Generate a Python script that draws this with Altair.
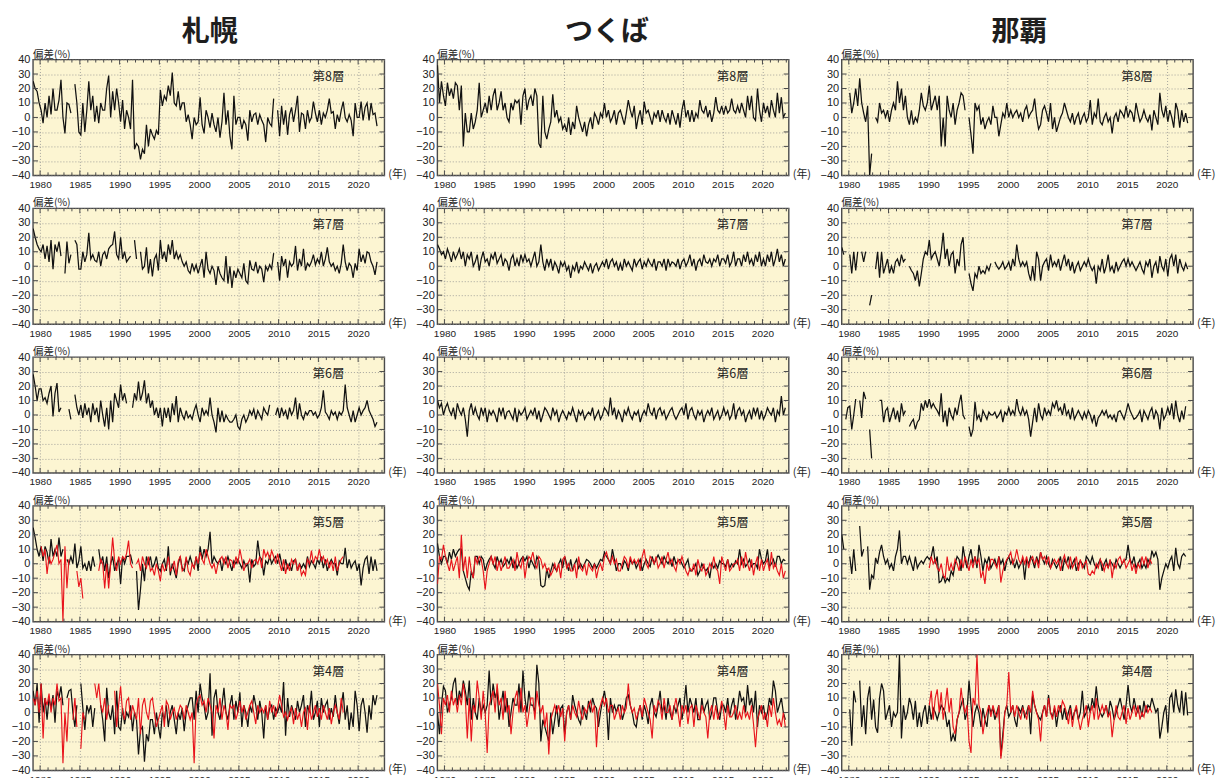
import altair as alt
import pandas as pd

# Ozone partial-column anomalies (%) per Umkehr layer, sampled once per quarter,
# 1979 Q1 .. 2022 Q4 (176 samples). None marks missing observations.
# "sonde" = black trace, "umkehr" = red trace.

# ---------------- Sapporo ----------------
sapporo_sonde_l8 = [
    25, 20, 18, 10, 5, -4, 10, 0, 15, 2, 20, 5, 5, 12, 26, 0, -11, 10, 9, 3,  # 1979-83
    None, 23, 10, -10, -12, 10, -10, 5, 25, 5, 15, -3, 8, -4, 10, 5, 5, 20, 29, 0,  # 1984-88
    18, 5, 20, 10, -3, 12, -8, 5, 0, -8, 26, -22, -18, -20, -29, -22, -25, -5, -20, -8,  # 1989-93
    -12, -15, -9, -12, 19, 8, 15, 12, 22, 15, 31, 10, 8, 18, 5, 10, 10, -3, 2, -5,  # 1994-98
    -15, 0, -5, -3, 14, -5, -11, 5, 0, -7, 3, -5, -10, 0, -14, -3, 17, -5, 5, -13,  # 1999-03
    -22, 15, -5, 0, 0, -8, -2, -5, -16, 5, -3, 2, 3, -5, 2, -2, -5, -17, 0, -4,  # 2004-08
    -6, 13, None, 5, -13, 8, -5, 5, -12, 2, 7, -3, 5, 15, -10, 3, 2, -8, 5, -3,  # 2009-13
    0, 11, 3, -3, 5, -5, 3, 0, 5, 13, 3, 4, -8, 2, -3, 5, 11, 0, -3, 2,  # 2014-18
    -2, -13, 10, 0, 0, 11, -2, 7, 10, -2, 10, 2, 3, -6, None, None,  # 2019-22
]
sapporo_sonde_l7 = [
    26, 20, 15, 12, 10, 15, 5, 14, 3, 18, -2, 15, 10, 17, 7, None, -5, 17, 2, 8,
    None, 18, 15, -2, -2, 10, 3, 8, 23, 5, 8, 4, 3, 10, 0, 8, 10, 5, 12, 14,
    15, 24, 8, 5, 20, 5, 10, 3, 5, 7, None, 18, 5, None, 10, -2, 0, 13, -5, 5,
    -7, 5, 8, -3, 18, 5, 10, 3, 15, 8, 18, 5, 10, 5, 8, 3, 0, 3, -3, -5,
    2, -3, 1, -5, 0, 5, -8, 10, -2, -5, 0, -3, -13, 0, -5, -8, -10, 7, -12, 0,
    -15, -3, -8, -2, -5, -8, 2, -10, -12, 4, -2, -3, 3, -5, 0, -2, -11, 0, -3, 1,
    -2, 9, None, 3, -10, 7, 0, 5, -8, 3, 0, 2, 14, -3, 5, 0, 12, -3, 2, 0,
    3, 8, 1, 5, 2, 10, 0, 5, 13, 3, 0, 2, -3, 0, -5, 2, 15, 3, -3, 2,
    0, -8, 2, -3, 12, 3, 8, 2, 10, 9, 3, 0, -6, 3, None, None,
]
sapporo_sonde_l6 = [
    28, 20, 10, 18, 18, 10, 12, 8, 15, 20, -1, 15, 22, 2, 5, None, -5, None, 4, -3,
    None, 14, 5, 0, 7, -2, 8, 0, 5, -5, 8, 0, 5, -5, 10, 0, -8, 5, -10, 10,
    -5, 15, 10, 5, 21, 10, 15, 8, None, None, 5, 15, 10, 23, 10, 15, 24, 8, 15, 5,
    10, 0, 5, -2, 5, -8, 5, -2, 5, -5, 8, 0, 13, -5, 5, 0, -3, 3, -2, 0,
    -3, 3, 7, 0, -5, 5, 0, 3, 0, 12, 0, -5, -12, 5, -5, 3, -5, 0, -3, -5,
    -5, -3, 0, -8, -10, -3, 0, -5, -2, 3, 0, 4, -3, 3, 0, -3, 5, 2, 0, 7,
    None, None, 0, 5, -2, 5, 0, 3, -3, 5, 0, 3, 12, -3, 8, 0, -3, 2, 0, 3,
    3, 0, 2, -2, 0, 5, 17, 2, 0, -3, 3, 0, 2, -3, 2, 0, 3, 21, 5, 0,
    -5, 3, -5, 0, 5, 0, 3, 5, 10, 3, 0, -3, -8, -5, None, None,
]
sapporo_sonde_l5 = [
    25, 18, 10, 5, 12, 2, 12, 8, 0, 17, 5, 10, 5, 18, 5, 10, None, 3, 0, 5,
    0, 14, -3, 2, 12, -3, 0, -5, 2, -5, 5, -2, None, 10, 0, 5, -5, 5, -10, 0,
    5, -5, 0, 3, -14, 5, 0, 5, 5, 6, 0, None, -5, -32, -18, 0, -12, 5, 0, 5,
    -3, 0, 5, -3, -5, 0, 3, -5, 12, -8, 0, -5, -10, 0, 5, -3, -5, 3, 0, 5,
    0, -3, 5, -5, 12, 3, 10, 5, 10, 22, 0, 5, 2, 0, 3, -5, 3, 0, 5, 0,
    -5, 2, 0, 3, 0, -3, 2, -2, 0, -13, 3, -2, 0, 16, 5, 3, -8, 2, 0, 5,
    0, 3, 5, 0, 7, 0, -5, 3, -3, 0, -5, 2, 3, -5, 0, -3, 0, -3, 5, -2,
    2, 0, -3, 3, 0, 5, -3, 3, -5, 0, 3, 0, 0, -8, 2, 0, 0, 11, -3, 3,
    -3, 0, 2, -5, 0, -15, -3, 3, 5, -7, 5, -5, 3, -5, None, None,
]
sapporo_umkehr_l5 = [
    -10, None, None, None, 12, 5, 10, -7, 5, 0, 3, 8, 13, 0, 3, -40, 12, -17, 3, None,
    None, None, -5, -16, -10, -24, None, None, None, None, None, None, None, -5, 3, 0, -17, 0, -17, 0,
    18, 2, -5, 5, 0, 5, 3, 7, 16, 0, -3, None, 0, 3, -5, 5, 0, -3, 5, -5,
    -3, -8, 0, -5, -12, 0, -5, -3, 5, -5, -3, 2, -8, 2, 5, -5, -3, 5, -5, -8,
    0, -3, 5, 0, 8, 3, 0, 10, 5, 0, -3, 0, -7, 0, 3, 5, 0, 5, -3, 3,
    2, -3, 5, 0, 10, 3, -5, 0, 0, 3, -3, 2, 3, 0, 5, -3, 10, 5, 8, 3,
    9, 5, 0, 7, 0, -5, 3, -7, 0, -5, 3, 0, 3, -5, 0, -8, -5, -8, 3, 0,
    9, 0, 5, 3, 10, 2, 5, 0, 3, -3, 2, -5, 5, -5, 0, 3, 5, None, None, None,
] + [None] * 16
sapporo_sonde_l4 = [
    15, 5, 20, -7, 20, 0, 10, -5, 10, 3, 12, -7, 15, 10, 18, 5, None, 10, 15, 16,
    0, -10, 5, None, 20, 3, -12, 5, 0, 5, -10, 3, None, None, 5, -5, -20, 17, 0, -5,
    5, -15, 15, -10, -12, 3, -8, 0, -3, 5, -13, 0, -5, -29, -12, -10, -34, -15, -20, -5,
    -5, -15, 0, -10, -18, 0, -5, 5, -10, 0, 5, -5, -15, 0, -5, 3, -13, 0, 5, 10,
    10, -5, 15, 0, 20, 10, 5, -5, 0, 27, -16, 10, 16, 0, -5, 5, 17, 0, -5, 5,
    12, -5, 8, 0, 14, -10, 5, 0, -10, 5, 0, 12, 5, -5, 8, 0, -18, 5, -5, 3,
    5, -5, 3, 0, 5, 0, 21, -16, 10, -3, 5, 0, -5, 8, 0, 5, 12, -10, 5, 0,
    15, -5, 0, 8, -10, 10, 0, 5, 8, -5, 3, -3, 12, 0, -8, 5, 14, -5, 5, -12,
    0, -10, 15, 5, -13, 5, 10, 0, -14, 5, -5, 12, 5, 12, None, None,
]
sapporo_umkehr_l4 = [
    10, 5, 15, 0, 20, -18, 10, 5, 13, 0, 10, 5, 20, 8, 10, -35, 0, -20, 10, None,
    -5, 10, -10, None, -25, 0, -5, None, None, None, None, 20, 10, 20, 5, 0, 10, -5, 5, None,
    None, 15, -10, 5, 18, 0, -5, 8, 10, -5, 5, 0, -5, 10, -15, 5, 10, 0, -5, 8,
    10, 0, -10, -5, 0, 5, -10, 8, 5, -5, 0, 3, -5, 0, 5, 3, -5, 5, 0, -5,
    0, -35, 5, 10, 12, 5, 8, 0, 10, 5, 0, -18, 5, 0, 10, -5, 5, 0, -12, 5,
    3, 5, -5, 0, 8, 0, 5, -5, 0, 5, 8, 0, -8, 5, 0, 3, 0, 5, -5, 8,
    0, 5, -3, 3, 12, 5, -3, 0, -5, 0, 3, -8, 3, -5, 0, -10, 0, 3, -12, 5,
    -5, 0, 5, -3, 3, -5, 5, 0, -5, 3, -8, 0, 5, 0, -5, 10, 0, None, None, None,
] + [None] * 16

# ---------------- Tsukuba ----------------
tsukuba_sonde_l8 = [
    36, 10, 25, 15, 8, 24, 15, 20, 13, 24, 22, 5, 22, -20, 3, -10, -10, 3, -8, -3,
    5, 24, 0, 5, 10, 3, 15, 5, 15, 20, 5, 10, 18, 5, 10, 0, -3, 10, 5, 12,
    10, 12, -5, 15, 20, 5, 12, 15, 8, 20, 15, -18, -21, 15, -10, -15, -8, -3, 16, 0,
    5, -3, 0, -8, -5, -10, 0, -12, -3, -8, 8, 0, -5, -10, -3, -13, -5, 0, -8, 3,
    0, -5, 3, 0, 10, 0, 5, -3, 0, 5, -5, 3, 5, 0, -5, 3, 12, 5, 0, 8,
    -8, 0, 5, -5, 11, 3, 5, 0, -5, 3, 0, 5, -3, 5, 0, -3, 3, -5, 5, 0,
    -5, 3, -7, 5, 12, 0, 5, -3, 5, -3, 3, 0, 12, 5, 3, 8, 0, 5, -3, 3,
    14, 5, 3, 8, 2, 8, 3, 5, 13, 5, 3, 8, 3, 10, 5, 0, 15, 5, 15, 0,
    -2, 20, 5, -3, 10, 3, 8, 0, 12, 5, 0, 17, 3, 14, 0, 3,
]
tsukuba_sonde_l7 = [
    15, 12, 8, 10, 5, 12, 8, 3, 10, 5, 8, 12, 5, 10, 0, 8, 5, 10, 0, 3,
    8, -3, 5, 10, 3, 5, 0, 8, 5, 10, 2, 5, 8, 0, 5, 3, -3, 5, 8, 0,
    5, 0, 8, 3, 8, 3, 5, 0, 5, 10, 0, 3, 15, 3, -3, 5, 0, 5, -3, 3,
    0, -5, 3, 0, 3, -3, 0, -8, 0, -3, 3, -5, 0, -2, 3, 0, -3, 2, -5, 0,
    2, -3, 0, 3, 0, 5, -2, 3, 5, 0, 3, -3, 2, -3, 5, 0, 3, 0, -3, 5,
    0, 3, 5, -2, 3, 0, 5, 2, 0, 5, -3, 3, 3, 0, 5, -3, 5, 0, 3, 2,
    0, 5, -2, 3, 5, 0, 3, 8, 0, 5, -3, 3, 5, 0, 8, 3, 2, 5, 0, 5,
    3, 8, 0, 5, 5, 2, 8, 0, 3, 10, 0, 5, 5, 0, 8, 3, 10, 2, 5, 0,
    8, 3, 10, 0, 5, 0, 8, 3, 10, 0, 5, 12, 3, 8, 0, 5,
]
tsukuba_sonde_l6 = [
    10, 5, 8, 0, 5, 8, 3, 0, 5, -3, 8, 3, 0, 5, -3, -15, 3, 8, 0, 5,
    0, -3, 5, 0, 5, -5, 3, 0, 3, 0, -5, 5, 0, 5, -3, 2, 3, 0, -3, 5,
    -5, 3, 0, 2, 5, -3, 0, 3, 0, 5, -3, 3, -5, 0, 5, 3, 0, -3, 5, 0,
    3, -5, 0, 3, 0, -3, 2, 0, 5, 0, -5, 3, 0, 3, -3, 0, 2, 0, 5, -3,
    0, 3, -3, 0, 5, 3, 0, 12, 0, 5, -3, 3, 0, -5, 3, 0, 5, 0, -3, 2,
    0, 3, -5, 0, 3, 0, 8, 2, 0, 5, -3, 3, 5, 0, 3, -3, 0, 3, 5, 0,
    -3, 0, 3, 5, 0, 8, -3, 3, 5, 0, -3, 3, 0, 3, -5, 0, 3, 0, 5, -3,
    0, 3, -3, 0, 5, 0, 3, -3, 0, 8, -3, 3, 5, 0, 3, -5, 0, 3, -3, 5,
    0, 5, -3, 3, -3, 0, 5, 2, 0, 5, -5, 3, 0, 13, 0, 5,
]
tsukuba_sonde_l5 = [
    14, 5, 0, 5, 5, 0, 8, 3, 10, 5, 8, 10, 10, -5, -10, -15, -18, -5, -10, 5,
    5, 0, 5, 3, -5, 0, 3, 5, 0, -3, 5, 0, 3, -2, 0, 3, 0, 5, -3, 2,
    -3, 0, 3, 5, 2, 5, -3, 3, 0, -3, 5, 2, -15, -16, -15, -3, -10, -5, 0, -3,
    -5, 0, 3, -3, 5, 0, -5, 3, -5, 0, 3, -3, 0, -3, 0, 3, 2, 0, -3, 0,
    -3, 0, 3, 2, 8, 5, 3, 0, 10, 3, -5, 0, 0, -3, 2, 0, -5, 3, 0, 2,
    -3, 0, 3, -5, 0, 3, 0, -2, 5, 0, 3, 6, 3, 0, 5, 2, 0, 3, -2, 5,
    0, 2, 3, 0, -3, 0, 3, -5, -5, -3, 0, -8, -5, 0, -3, -5, -3, -10, 0, -3,
    0, -3, 2, 0, 0, -2, 3, -3, 0, -2, 2, 0, 10, 0, 3, -2, 0, 3, -2, 0,
    0, -3, 10, 3, 0, 2, 10, -2, 0, 3, -2, 5, 5, 0, 3, 2,
]
tsukuba_umkehr_l5 = [
    -14, 5, 3, 13, 5, 0, -5, 3, -5, 0, 5, -10, 20, -5, 5, -10, 5, -5, -10, 5,
    0, 5, 3, -5, -18, -5, 0, 5, 0, 5, -5, 2, -5, 0, 5, -3, -3, 0, 3, -5,
    8, 0, -3, 5, -10, 0, 5, 3, 8, 0, -3, 5, 3, -3, 0, -5, -3, -8, -5, 0,
    -5, 0, -10, 3, 5, -3, 0, -5, -5, 0, -10, 5, -3, -5, 0, -8, 0, -3, -5, 0,
    -10, -3, 0, -5, 5, 8, 3, 0, 5, 0, 3, -5, -5, 0, 5, 3, -3, 5, 0, 3,
    0, 3, -5, 5, 10, 0, -3, 5, 3, 0, 5, -3, 0, 5, -3, 3, 8, 0, 3, -2,
    -5, 3, 0, 5, 0, -5, -8, -3, -5, 0, -8, 3, -3, -5, 0, -8, -5, 0, -3, 5,
    -3, -5, -14, 5, 0, -5, 3, -5, -3, 0, 0, 3, -5, 5, -3, 8, 0, -5, 3, -8,
    0, 5, -5, 3, -5, 0, 3, -5, 8, -3, 0, -5, -8, 0, -10, -5,
]
tsukuba_sonde_l4 = [
    0, -15, 5, 18, 15, 0, 5, 10, 20, 24, 5, 15, 10, 22, 15, 5, 22, -5, 10, 0,
    -5, 10, 0, 5, 0, 5, 29, 5, 20, 10, 15, -5, 5, 15, 0, 10, -10, 0, 10, 5,
    5, 20, 0, 29, 10, 0, 15, 5, 5, 0, 33, 20, -20, -5, -10, -15, -20, 0, -15, -5,
    5, -10, 3, 5, -15, 0, 5, -5, 12, 5, 0, -5, -8, 5, 0, -5, 8, 0, 10, 5,
    3, -10, 0, 8, 15, 5, -19, 10, 0, 5, 0, 5, 5, -5, 0, 10, 12, 5, 0, -8,
    -10, 0, 5, -5, 5, 0, -8, 5, 10, 0, -3, 5, 15, 0, 5, -5, 10, 0, -5, 5,
    0, 5, 10, -5, 5, 19, 0, 10, 5, 0, 10, -5, -5, 10, 0, 5, 8, -5, 0, 10,
    10, 0, -5, 5, 5, 0, 10, -3, 5, 10, -5, 3, 15, 8, 10, 0, 19, 5, 10, 0,
    15, -10, 5, 0, 5, -5, 0, 10, 5, 22, 15, 0, 5, 10, 0, -5,
]
tsukuba_umkehr_l4 = [
    20, 5, -15, 10, 5, 12, 0, 15, 5, 10, 0, 12, 5, 20, 10, -18, 10, -20, 5, 0,
    22, 10, -5, 15, 0, -28, 5, 10, 15, 0, 20, 5, 10, -5, 15, 0, 5, -15, 0, 10,
    15, 0, 17, 0, 5, -10, 0, 10, 10, -5, 15, 5, 0, 5, -10, 0, -29, -5, 0, 5,
    0, 5, -3, 3, -20, 0, 5, -5, 5, 0, -3, 8, 0, -5, 3, 0, 5, 8, 0, 5,
    -24, 0, 5, 10, 5, 10, 0, 5, 5, -5, 0, 3, -5, 5, 0, 3, 20, 5, 0, 3,
    -5, 0, 5, -3, 10, 5, 0, -5, -18, 5, 0, 8, 5, -5, 10, 0, 0, 5, -5, 3,
    10, 0, -10, 5, 0, 5, -8, 3, 5, -10, 5, 0, -5, 5, 0, -3, -18, 0, 5, -5,
    5, -5, 0, 8, 0, -12, 5, -3, -3, 0, 5, -5, 0, -5, 5, -3, 0, -5, 5, -8,
    -24, -5, 0, 5, -5, 0, -10, 5, -3, 10, 0, -8, -5, -10, 0, -10,
]

# ---------------- Naha ----------------
naha_sonde_l8 = [
    36, None, None, None, 17, 3, 10, 20, 8, 27, 10, 3, -3, 8, -40, -25, None, 0, -3, 10,
    3, 5, 0, 5, -3, 5, 10, 5, 25, 10, 20, 5, 15, 0, -5, 5, -5, 0, -3, 5,
    17, 8, 5, 10, 22, 5, 10, 15, 5, 15, -20, 0, -20, 15, 5, 0, 10, -5, 5, 10,
    17, 15, 5, None, 0, -12, -25, 10, 5, 8, -5, 0, -8, -3, 0, -5, 8, 0, 0, -13,
    -5, 3, 0, 10, 0, 5, 0, 3, 5, 0, 3, -3, 5, 8, 0, 3, 5, 13, 0, -8,
    -5, 5, 8, 3, -3, 10, -8, 0, -10, -5, 0, 3, 10, 5, 0, -3, 3, -5, 0, 3,
    -5, 0, 3, -3, 0, 12, -5, 3, 0, 13, -3, -5, 0, 3, -3, 0, -11, 0, 3, -3,
    5, 3, 0, 8, 0, 5, 3, -3, 10, 3, -3, 0, 5, 0, -3, 2, -9, 5, 0, -5,
    17, 5, 0, 8, -3, 5, 0, -7, 10, 5, -7, 5, -3, 3, -4, None,
]
naha_sonde_l7 = [
    13, 8, None, None, 8, -5, 10, -3, 10, None, 10, 3, 10, None, -27, -20, None, -2, 10, -8,
    10, -5, 0, 5, -5, 0, -5, 3, 5, 0, 8, 3, 5, None, 0, -3, -5, -10, -3, -14,
    -5, 5, 10, 8, 18, 5, 8, 10, 5, 0, 10, 23, 5, 12, 0, 8, 10, -5, 5, 0,
    15, 20, -3, None, -5, -12, -17, -5, -8, 0, -5, -3, -5, 0, -3, 2, None, 3, 0, -2,
    0, 3, -2, 0, 3, -3, 5, 0, 15, 5, 0, 3, 0, 3, -5, -10, 0, -10, 10, 5,
    -10, 0, 3, 5, -3, 8, 0, 3, 0, 5, -3, 3, 8, 0, 5, -3, 3, -5, 0, 3,
    -3, 0, 3, 0, 5, 0, -3, 0, -12, 0, -3, 5, -5, 0, 8, -3, 0, -5, 3, -3,
    0, 3, 5, 0, 5, 0, 3, 0, -3, 0, 3, -2, -5, 3, 0, 5, -8, 0, 3, -5,
    7, 0, -3, 5, -7, 5, 8, 0, 8, -5, 5, 0, -3, 2, -2, None,
]
naha_sonde_l6 = [
    None, None, -3, 5, 6, -10, 0, 11, None, 10, -2, 16, 11, None, -10, -30, None, -2, None, 10,
    10, -5, 3, 5, -5, 0, 5, -3, 3, -5, 8, 0, 3, None, -8, -5, -3, -10, -5, -3,
    8, 3, 10, 5, 11, 5, 8, 5, 3, 0, 15, -5, 3, -8, 5, 0, -3, 5, 0, 8,
    14, 0, -3, None, -8, -15, -10, 9, -3, 0, -5, 3, 0, -3, 2, 0, 0, 2, -2, 0,
    3, -5, 2, 0, 5, 0, 3, 0, 11, 3, 0, 5, 0, 3, -3, -15, -5, 5, -5, 8,
    0, -3, 5, 0, 3, 0, 8, 5, 10, 3, 5, 0, 8, 0, 3, -3, 5, -3, 0, 3,
    0, -3, 2, -2, 3, 0, -5, 0, -8, -2, 0, 3, 0, 3, -2, 0, -3, 0, -5, 2,
    3, 0, -3, 2, 8, 3, 0, -3, -2, 0, 3, -5, 3, 0, -3, 2, 5, -3, 3, 0,
    -10, 5, -3, 0, 5, 0, 8, -3, 10, 0, -5, 3, -3, 6, None, None,
]
naha_sonde_l5 = [
    20, 10, None, None, 5, -7, 10, -5, None, 26, 5, 10, None, 12, -18, -8, -10, 4, 0, 8,
    13, 5, 0, 3, -3, 0, -5, 5, 10, 23, 0, 5, 5, 0, 5, 0, -5, 5, -3, 0,
    2, 0, 3, 5, 3, 5, 12, 0, 5, -13, -12, -8, -13, -10, -12, -5, -8, 0, 5, 3,
    -5, 12, 3, -3, 5, 10, 0, 5, -3, 13, 5, -5, 3, 0, 5, -3, 0, 3, -2, 5,
    0, 3, -5, 2, 5, 0, 3, -3, 2, -3, 0, 3, -11, 3, 0, 5, 2, -3, 5, 0,
    8, 3, 0, 5, 0, -3, 3, 0, -3, 0, 5, -5, 3, 0, 5, -3, 0, 3, -5, 0,
    2, 0, -3, 5, 3, 0, 5, 0, -3, 0, 3, -5, 0, 3, -3, 2, 0, -3, 3, 0,
    -3, 0, 2, 3, 13, 3, 0, 5, -3, 0, 3, -3, 0, -3, 3, 0, 9, 5, 8, 3,
    -18, -10, -5, 0, -3, 2, 5, -5, 11, 0, -3, 5, 7, 5, None, None,
]
naha_umkehr_l5 = [None] * 44 + [
    -3, 5, 0, 3, -3, -5, 0, -8, -10, 5, -5, 0, -5, 3, 0, -5,  # 1990-93
    3, -3, 5, 0, -5, 3, -3, 5, 0, 3, -10, -5, -14, 0, -5, 3, 3, 0, -3, 5,
    -13, -5, 0, 3, 5, 8, 0, 3, 10, 3, 0, 5, 0, 5, -3, 3, 5, 0, 3, -3,
    8, 3, 5, 0, 5, -3, 0, 3, 0, 3, -5, 2, 6, 0, -3, 5, -3, 0, 5, -5,
    3, -3, 0, 2, -7, -8, -5, -7, 0, -3, 3, 0, -5, 0, -3, 3, -10, 0, -3, 3,
    5, 0, 3, -3, 0, 3, -5, 0, -7, 0, -3, 5, 0, 5, -3, 3, 0, None, None, None,
] + [None] * 16
naha_sonde_l4 = [
    38, None, None, None, 2, -23, 15, 7, None, 22, -10, 5, -15, 10, 18, -5, 9, -10, -14, 10,
    20, 15, -5, 0, 5, -10, 0, -3, 0, 40, -18, 5, -5, 0, 10, 5, -5, 8, -10, 0,
    -10, 0, 5, -8, 5, -5, 3, 0, -5, 0, 5, 3, 0, -10, -5, -20, -15, -20, -5, 0,
    5, 10, -5, 0, 22, 5, -10, 0, 5, 0, -10, 3, -5, -10, 5, 0, 3, -5, 0, 5,
    -30, -15, 0, 5, -3, 0, 5, -5, -10, 3, 0, 5, -3, 0, 5, -15, 12, 5, 0, -3,
    -5, 0, 5, -3, 12, 0, -3, 3, -10, 0, 5, -5, 3, -5, 0, 5, -5, 0, 3, -5,
    0, 15, -3, 0, 5, 0, 10, 3, 18, 5, 0, -3, 0, 5, -3, 8, 3, -5, 0, 5,
    10, 3, -5, 5, 19, 5, 0, 10, 3, 0, 5, -3, 8, 0, 5, 3, 10, 5, 0, 3,
    -18, -10, 0, 5, -14, 10, 13, 0, 16, 5, 0, 15, -2, 14, -2, None,
]
naha_umkehr_l4 = [None] * 44 + [
    5, 15, -5, 10, 16, 0, 14, -5, 5, 17, 0, 10, -10, -15, -5, 0,  # 1990-93
    17, 5, 0, 5, -20, -28, 10, 5, 40, 5, 0, -15, -5, 0, 5, -3, 5, 0, -3, 5,
    -32, -20, 0, 5, 28, 0, 5, -3, 5, 0, -5, 3, 0, -5, 5, 0, 15, 5, 0, -5,
    -20, 0, 5, -3, 10, 0, -5, 5, -3, 5, 0, 8, 5, 0, -8, 3, -10, 0, 5, -5,
    -12, -5, 0, 5, -10, 0, 5, -5, 10, -5, 0, 5, 0, 5, -3, 0, -17, -5, 5, -3,
    -5, 0, 5, -8, 3, -5, 0, 5, -3, 5, -5, 0, -3, 5, 0, 3, 0, None, None, None,
] + [None] * 16

YEAR_LABELS = [1980, 1985, 1990, 1995, 2000, 2005, 2010, 2015, 2020]
DEV_LABELS = [-40, -30, -20, -10, 0, 10, 20, 30, 40]
LAYER_NAMES = ["第8層", "第7層", "第6層", "第5層", "第4層"]

STATIONS = [
    ("札幌", 177, [
        (sapporo_sonde_l8, None), (sapporo_sonde_l7, None), (sapporo_sonde_l6, None),
        (sapporo_sonde_l5, sapporo_umkehr_l5), (sapporo_sonde_l4, sapporo_umkehr_l4)]),
    ("つくば", 170, [
        (tsukuba_sonde_l8, None), (tsukuba_sonde_l7, None), (tsukuba_sonde_l6, None),
        (tsukuba_sonde_l5, tsukuba_umkehr_l5), (tsukuba_sonde_l4, tsukuba_umkehr_l4)]),
    ("那覇", 178, [
        (naha_sonde_l8, None), (naha_sonde_l7, None), (naha_sonde_l6, None),
        (naha_sonde_l5, naha_umkehr_l5), (naha_sonde_l4, naha_umkehr_l4)]),
]

# ---------------- layout / style ----------------
N = 176
QUARTERS = [1979 + 0.125 + 0.25 * i for i in range(N)]
W, H = 352, 116
BG = "#FCF5D2"
INK = "#111111"
RED = "#E8141C"
FRAME = "#4a4a4a"
GRID = "#8f8f8f"
JP = "Noto Sans CJK JP"
NUM = "Liberation Sans"

x_scale = alt.Scale(domain=[1979.1, 2023.3], nice=False, zero=False)
y_scale = alt.Scale(domain=[-40, 40], nice=False, zero=False)
x_axis = alt.Axis(values=YEAR_LABELS, format="d", title=None, grid=True, gridDash=[1, 2],
                  gridColor=GRID, gridWidth=0.8, ticks=False, tickSize=0, domain=False,
                  labelFont=NUM, labelFontSize=10, labelColor="#222", labelPadding=4,
                  labelFlush=False, labelOverlap=False)
y_axis = alt.Axis(values=DEV_LABELS, format="d", title=None, grid=True, gridDash=[1, 2],
                  gridColor=GRID, gridWidth=0.8, ticks=False, tickSize=0, domain=False,
                  labelFont=NUM, labelFontSize=11, labelColor="#222", labelPadding=3,
                  labelFlush=False, labelOverlap=False)
X = alt.X("year:Q", scale=x_scale, axis=x_axis)
Y = alt.Y("dev:Q", scale=y_scale, axis=y_axis)


def fit(vals):
    vals = list(vals)[:N]
    return vals + [None] * (N - len(vals))


def trace(vals, color, width):
    df = pd.DataFrame({"year": QUARTERS, "dev": fit(vals)})
    return alt.Chart(df).mark_line(
        color=color, strokeWidth=width, clip=True, invalid="break-paths-show-domains"
    ).encode(x=X, y=Y)


def label(text, x, y, size, align="center", baseline="middle", weight="normal"):
    return alt.Chart(pd.DataFrame({"k": [0]})).mark_text(
        text=text, font=JP, fontSize=size, fontWeight=weight, color="#1e1e1e",
        align=align, baseline=baseline
    ).encode(x=alt.value(x), y=alt.value(y))


def panel(sonde, umkehr, layer_name, station=None, station_x=None):
    layers = [trace(sonde, INK, 1.25)]
    if umkehr is not None:
        layers.append(trace(umkehr, RED, 1.15))

    # inward tick marks on all four sides
    minor = pd.DataFrame({"year": [y for y in range(1980, 2024) if y % 5]})
    major = pd.DataFrame({"year": list(range(1980, 2024, 5))})
    for df, ln in ((minor, 3), (major, 5)):
        layers.append(alt.Chart(df).mark_rule(color=FRAME, strokeWidth=1).encode(
            x=X, y=alt.value(H), y2=alt.value(H - ln)))
        layers.append(alt.Chart(df).mark_rule(color=FRAME, strokeWidth=1).encode(
            x=X, y=alt.value(0), y2=alt.value(ln)))
    ydf = pd.DataFrame({"dev": list(range(-30, 31, 10))})
    layers.append(alt.Chart(ydf).mark_rule(color=FRAME, strokeWidth=1).encode(
        y=Y, x=alt.value(0), x2=alt.value(5)))
    layers.append(alt.Chart(ydf).mark_rule(color=FRAME, strokeWidth=1).encode(
        y=Y, x=alt.value(W), x2=alt.value(W - 5)))

    layers.append(label(layer_name, 296, 17, 12.5))
    layers.append(label("偏差(%)", 0, -5, 10.5, align="left"))
    layers.append(label("(年)", W + 4, H, 11, align="left"))
    if station:
        layers.append(label(station, station_x, -27, 28, weight="bold"))
    return alt.layer(*layers).properties(width=W, height=H)


# grid of panels, row-major: one row per layer, one column per station
panels = []
for row, name in enumerate(LAYER_NAMES):
    for station, sx, rows in STATIONS:
        sonde, umkehr = rows[row]
        panels.append(panel(sonde, umkehr, name, station if row == 0 else None, sx))

chart = alt.concat(
    *panels, columns=3, bounds="flush", spacing={"row": 33, "column": 53}
).properties(
    padding={"left": 10, "top": 17, "right": 0, "bottom": 0},
    background="white",
).configure_view(fill=BG, stroke=FRAME, strokeWidth=1.4)

chart.save("out.html", embed_options={"renderer": "svg", "actions": False})
